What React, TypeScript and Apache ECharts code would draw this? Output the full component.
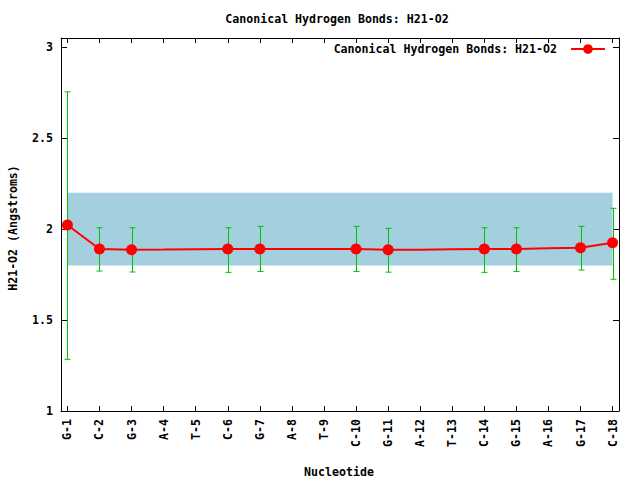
import React, { useEffect, useRef } from "react";
import * as echarts from "echarts";

const nucleotides = ["G-1","C-2","G-3","A-4","T-5","C-6","G-7","A-8","T-9","C-10","G-11","A-12","T-13","C-14","G-15","A-16","G-17","C-18"];
const means = [2.022,1.890,1.886,1.887,1.889,1.890,1.890,1.890,1.890,1.890,1.886,1.886,1.889,1.890,1.890,1.895,1.897,1.925];
const lows: (number | null)[] = [1.284,1.769,1.764,null,null,1.762,1.767,null,null,1.767,1.763,null,null,1.762,1.767,null,1.775,1.724];
const highs: (number | null)[] = [2.754,2.007,2.007,null,null,2.007,2.015,null,null,2.015,2.004,null,null,2.007,2.007,null,2.015,2.114];
const bandRange = [1.8, 2.2];
const yTicks = [1, 1.5, 2, 2.5, 3];
const seriesName = "Canonical Hydrogen Bonds: H21-O2";

const FONT = "'DejaVu Sans Mono', monospace";

export default function App() {
  const ref = useRef<HTMLDivElement>(null);
  useEffect(() => {
    if (!ref.current) return;
    const chart = echarts.init(ref.current, undefined, { renderer: "svg" });
    const xs = nucleotides.map((_, i) => i + 1);
    const lineData = means.map((v, i) => {
      const hasMarker = lows[i] !== null;
      return hasMarker ? { value: [i + 1, v] } : { value: [i + 1, v], symbol: "none" };
    });
    const errData: any[] = [];
    lows.forEach((lo, i) => {
      if (lo !== null && highs[i] !== null) errData.push([i + 1, lo, highs[i]]);
    });
    const textStyle = { fontFamily: FONT, fontWeight: "bold" as const, fontSize: 11.6, color: "#000" };
    const axisCommonX = {
      type: "value" as const,
      min: 0.8,
      max: 18.2,
      splitLine: { show: false },
      axisLine: { show: true, onZero: false, lineStyle: { color: "#000", width: 1 } },
      axisTick: { show: true, inside: true, length: 5, customValues: xs, lineStyle: { color: "#000" } },
    };
    const axisCommonY = {
      type: "value" as const,
      min: 1,
      max: 3.05,
      splitLine: { show: false },
      axisLine: { show: true, onZero: false, lineStyle: { color: "#000", width: 1 } },
      axisTick: { show: true, inside: true, length: 6, customValues: yTicks, lineStyle: { color: "#000" } },
    };
    chart.setOption({
      animation: false,
      backgroundColor: "#fff",
      grid: { left: 61, right: 21, top: 38, bottom: 69, containLabel: false },
      graphic: [
        { type: "text", x: 337, y: 19, style: { text: seriesName, align: "center", verticalAlign: "middle", font: `bold 11.6px ${FONT}`, fill: "#000" } },
        { type: "text", x: 13, y: 228, rotation: Math.PI / 2, style: { text: "H21-O2 (Angstroms)", align: "center", verticalAlign: "middle", font: `bold 11.6px ${FONT}`, fill: "#000" } },
        { type: "text", x: 339, y: 472, style: { text: "Nucleotide", align: "center", verticalAlign: "middle", font: `bold 11.6px ${FONT}`, fill: "#000" } },
      ],
      legend: {
        show: true,
        right: 34,
        top: 43,
        padding: 0,
        align: "right",
        itemWidth: 34,
        itemHeight: 12,
        itemGap: 0,
        textStyle: { ...textStyle, padding: [0, 9, 0, 0] },
        data: [{ name: seriesName }],
      },
      xAxis: [
        {
          ...axisCommonX,
          position: "bottom",
          axisLabel: {
            ...textStyle,
            customValues: xs,
            rotate: 90,
            margin: 8,
            formatter: (v: number) => nucleotides[Math.round(v) - 1] ?? "",
          },
        },
        { ...axisCommonX, position: "top", axisLabel: { show: false } },
      ],
      yAxis: [
        {
          ...axisCommonY,
          position: "left",
          axisLabel: { ...textStyle, customValues: yTicks, margin: 8, formatter: (v: number) => String(v) },
        },
        { ...axisCommonY, position: "right", axisLabel: { show: false } },
      ],
      series: [
        {
          type: "custom",
          name: "band",
          xAxisIndex: 0,
          yAxisIndex: 0,
          silent: true,
          z: 1,
          data: [[1, bandRange[0], 18, bandRange[1]]],
          renderItem: (params: any, api: any) => {
            const p0 = api.coord([api.value(0), api.value(1)]);
            const p1 = api.coord([api.value(2), api.value(3)]);
            return {
              type: "rect",
              shape: { x: p0[0], y: p1[1], width: p1[0] - p0[0], height: p0[1] - p1[1] },
              style: { fill: "#a3cfdf" },
            };
          },
        },
        {
          type: "custom",
          name: "err",
          xAxisIndex: 0,
          yAxisIndex: 0,
          silent: true,
          z: 2,
          data: errData,
          renderItem: (params: any, api: any) => {
            const x = api.value(0);
            const lo = api.coord([x, api.value(1)]);
            const hi = api.coord([x, api.value(2)]);
            const cx = Math.round(lo[0]) + 0.5;
            const style = { stroke: "#00c000", lineWidth: 1 };
            return {
              type: "group",
              children: [
                { type: "line", shape: { x1: cx, y1: lo[1], x2: cx, y2: hi[1] }, style },
                { type: "line", shape: { x1: cx - 3, y1: lo[1], x2: cx + 3, y2: lo[1] }, style },
                { type: "line", shape: { x1: cx - 3, y1: hi[1], x2: cx + 3, y2: hi[1] }, style },
              ],
            };
          },
        },
        {
          type: "line",
          name: seriesName,
          xAxisIndex: 0,
          yAxisIndex: 0,
          z: 3,
          data: lineData,
          symbol: "circle",
          symbolSize: 11,
          showSymbol: true,
          lineStyle: { color: "#ff0000", width: 2 },
          itemStyle: { color: "#ff0000" },
        },
      ],
    });
    return () => chart.dispose();
  }, []);
  return <div ref={ref} style={{ width: 640, height: 480, position: "absolute", left: 0, top: 0 }} />;
}
